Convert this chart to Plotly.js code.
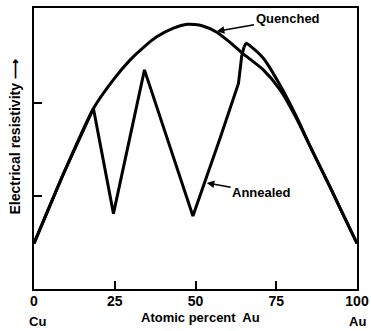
<!DOCTYPE html>
<html>
<head>
<meta charset="utf-8">
<script src="https://cdn.plot.ly/plotly-3.0.1.min.js"></script>
<style>html,body{margin:0;padding:0;background:#fff;}#chart{width:371px;height:331px;}</style>
</head>
<body>
<div id="chart"></div>
<script>
// Atomic percent Au
var quenchedX = [0, 9, 18.4, 24.6, 29.7, 34, 38, 43, 47.5, 52, 56.6, 60.7, 64.3, 71, 76.2, 81, 86.5, 91.6, 95.5, 100];
var quenchedY = [0.49, 1.23, 1.94, 2.25, 2.46, 2.60, 2.71, 2.80, 2.845, 2.83, 2.76, 2.65, 2.54, 2.355, 2.14, 1.85, 1.46, 1.10, 0.815, 0.49];

// Annealed: sharp zig-zag part (Cu side) and smooth part after the peak
var annealedX = [0, 9, 18.4, 24.6, 34.2, 49.2, 57.6, 61.7, 63.3, 64.3, 65.0, 65.7, 67, 71, 76.2, 81, 86.5, 91.6, 95.5, 100];
var annealedY = [0.49, 1.23, 1.94, 0.81, 2.355, 0.785, 1.62, 2.03, 2.21, 2.50, 2.60, 2.64, 2.61, 2.48, 2.19, 1.87, 1.46, 1.10, 0.815, 0.49];
var annealedSmoothFrom = 10; // index where the curve becomes smooth

var xTickVals = [0, 25, 50, 75, 100];
var xTickText = ['0', '25', '50', '75', '100'];
var yTickVals = [1, 2];

var FONT = 'Liberation Sans, Arial, sans-serif';
var txt = function (s) { return {family: FONT, size: s, weight: 700, color: '#000'}; };

var traces = [
  {x: quenchedX, y: quenchedY, mode: 'lines', name: 'Quenched',
   line: {color: '#000', width: 3, shape: 'spline', smoothing: 0.6}},
  {x: annealedX.slice(0, annealedSmoothFrom + 1), y: annealedY.slice(0, annealedSmoothFrom + 1),
   mode: 'lines', name: 'Annealed', line: {color: '#000', width: 3}},
  {x: annealedX.slice(annealedSmoothFrom), y: annealedY.slice(annealedSmoothFrom),
   mode: 'lines', name: 'Annealed', line: {color: '#000', width: 3, shape: 'spline', smoothing: 0.6}}
];

var layout = {
  width: 371, height: 331,
  margin: {l: 34, r: 14, t: 8, b: 42},
  paper_bgcolor: '#fff', plot_bgcolor: '#fff',
  showlegend: false,
  font: txt(13),
  xaxis: {
    range: [0, 100], tickvals: xTickVals, ticktext: xTickText,
    ticks: 'inside', ticklen: 8, tickwidth: 2, tickcolor: '#000',
    showline: true, mirror: true, linewidth: 2, linecolor: '#000',
    showgrid: false, zeroline: false, ticklabelstandoff: -2,
    tickfont: txt(14)
  },
  yaxis: {
    range: [0, 3.02], tickvals: yTickVals, showticklabels: false,
    ticks: 'inside', ticklen: 8, tickwidth: 2, tickcolor: '#000',
    showline: true, mirror: true, linewidth: 2, linecolor: '#000',
    showgrid: false, zeroline: false
  },
  annotations: [
    {text: 'Quenched', x: 56.6, y: 2.77, xref: 'x', yref: 'y',
     ax: 78.5, ay: 2.905, axref: 'x', ayref: 'y',
     showarrow: true, arrowhead: 2, arrowsize: 1, arrowwidth: 1.5, arrowcolor: '#000',
     font: txt(13)},
    {text: 'Annealed', x: 53.5, y: 1.14, xref: 'x', yref: 'y',
     ax: 70.5, ay: 1.035, axref: 'x', ayref: 'y',
     showarrow: true, arrowhead: 2, arrowsize: 1, arrowwidth: 1.5, arrowcolor: '#000',
     font: txt(13)},
    {text: 'Atomic percent  Au', x: 0.517, y: -0.103, xref: 'paper', yref: 'paper',
     showarrow: false, yanchor: 'middle', xanchor: 'center', font: txt(13)},
    {text: 'Cu', x: 0.01, y: -0.114, xref: 'paper', yref: 'paper',
     showarrow: false, yanchor: 'middle', xanchor: 'center', font: txt(13)},
    {text: 'Au', x: 1.0, y: -0.114, xref: 'paper', yref: 'paper',
     showarrow: false, yanchor: 'middle', xanchor: 'center', font: txt(13)},
    {text: 'Electrical resistivity \u27F6', x: -0.058, y: 0.54, xref: 'paper', yref: 'paper',
     showarrow: false, textangle: -90, xanchor: 'center', yanchor: 'middle', font: txt(14)}
  ]
};

Plotly.newPlot('chart', traces, layout, {staticPlot: true, displayModeBar: false});
</script>
</body>
</html>
